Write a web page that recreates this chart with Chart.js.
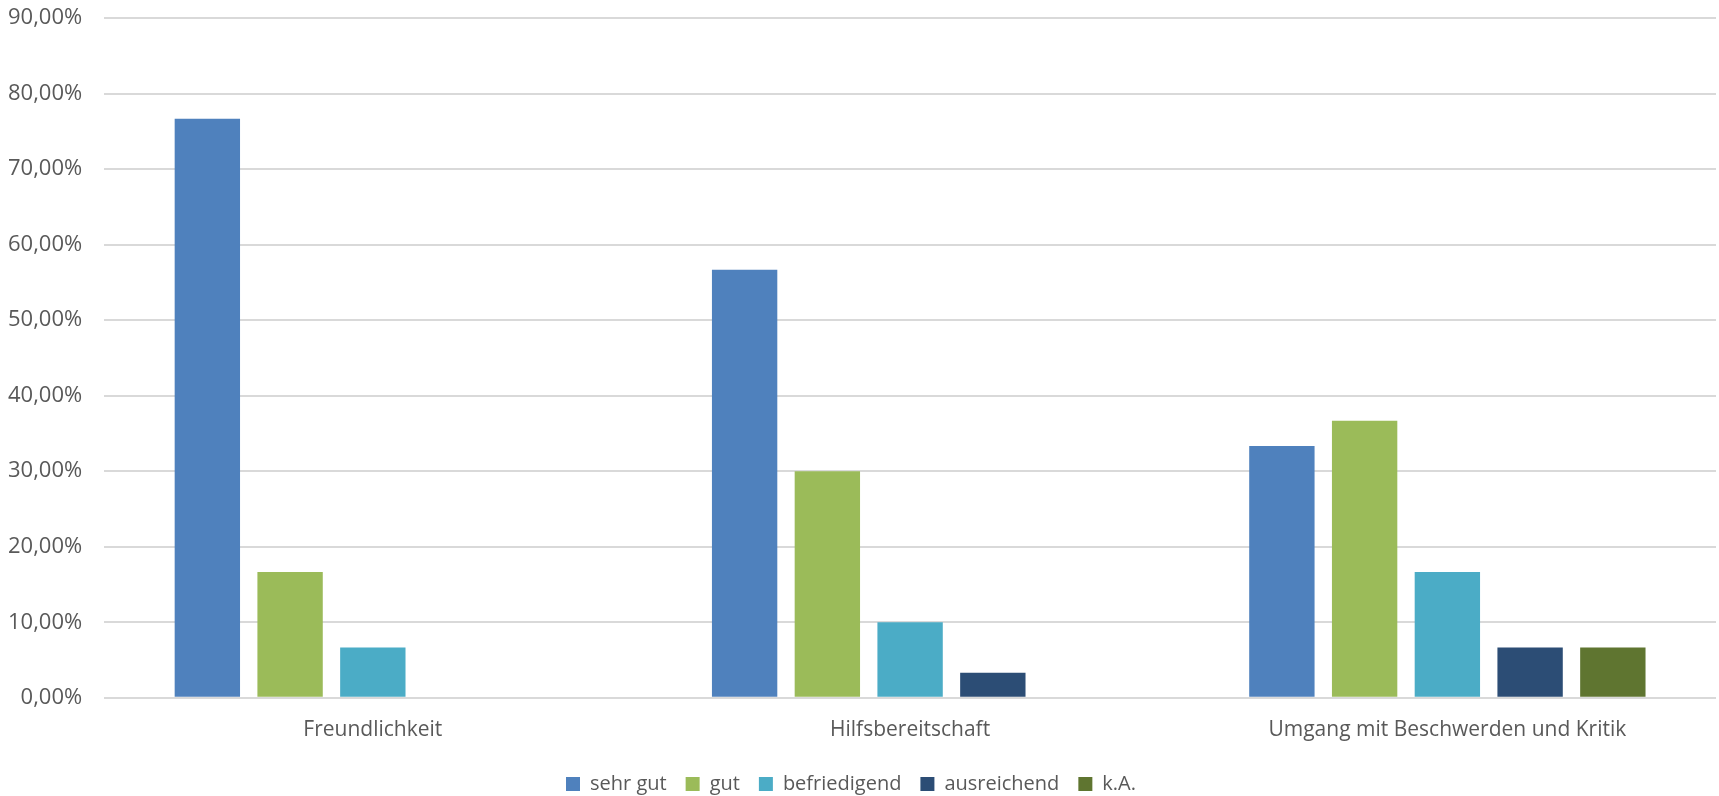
<!DOCTYPE html>
<html>
<head>
<meta charset="utf-8">
<script src="https://cdn.jsdelivr.net/npm/chart.js@4/dist/chart.umd.min.js"></script>
<style>
html,body{margin:0;padding:0;background:#fff;}
#wrap{position:relative;width:1719px;height:796px;}
</style>
</head>
<body>
<div id="wrap"><canvas id="c"></canvas></div>
<script>
const categories = ["Freundlichkeit", "Hilfsbereitschaft", "Umgang mit Beschwerden und Kritik"];
const seriesNames = ["sehr gut", "gut", "befriedigend", "ausreichend", "k.A."];
const sehrGut = [76.67, 56.67, 33.33];
const gut = [16.67, 30.00, 36.67];
const befriedigend = [6.67, 10.00, 16.67];
const ausreichend = [0, 3.33, 6.67];
const kA = [0, 0, 6.67];
const colors = ["#4F81BD", "#9BBB59", "#4BACC6", "#2C4D75", "#5F7530"];
const yTicks = [0, 10, 20, 30, 40, 50, 60, 70, 80, 90];

const seriesValues = [sehrGut, gut, befriedigend, ausreichend, kA];
const FONT = "'Open Sans', 'Noto Sans', sans-serif";

new Chart(document.getElementById('c'), {
  type: 'bar',
  data: {
    labels: categories,
    datasets: seriesNames.map((n, i) => ({
      label: n,
      data: seriesValues[i],
      backgroundColor: colors[i],
      borderWidth: 0,
      categoryPercentage: 0.77,
      barPercentage: 0.79
    }))
  },
  options: {
    responsive: true,
    maintainAspectRatio: false,
    animation: false,
    devicePixelRatio: 1,
    layout: { padding: { top: 0, left: -14, right: 3, bottom: -8 } },
    plugins: {
      tooltip: { enabled: false },
      legend: {
        position: 'bottom',
        labels: {
          boxWidth: 14, boxHeight: 14, padding: 19,
          color: '#595959',
          font: { family: FONT, size: 20 }
        }
      }
    },
    scales: {
      x: {
        grid: { display: false },
        border: { display: false },
        ticks: { color: '#595959', padding: 12, font: { family: FONT, size: 21 } }
      },
      y: {
        min: 0, max: 90,
        afterBuildTicks: (s) => { s.ticks = yTicks.map(v => ({ value: v })); },
        afterFit: (s) => { s.paddingTop = 18; s.paddingBottom = 0; },
        grid: { color: '#D9D9D9', lineWidth: 2, drawTicks: false },
        border: { display: false },
        ticks: {
          color: '#595959', padding: 22,
          font: { family: FONT, size: 22 },
          callback: (v) => v.toFixed(2).replace('.', ',') + '%'
        }
      }
    }
  }
});
</script>
</body>
</html>
